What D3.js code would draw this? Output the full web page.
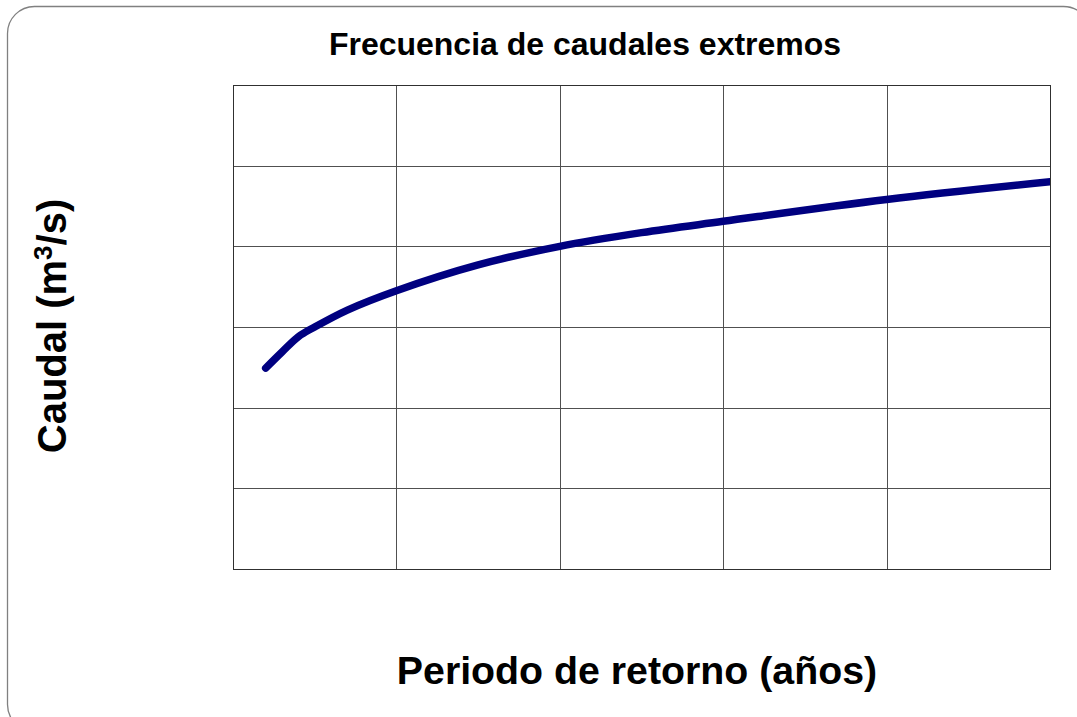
<!DOCTYPE html>
<html>
<head>
<meta charset="utf-8">
<script src="https://cdn.jsdelivr.net/npm/d3@7"></script>
<style>
  body { margin: 0; background: #fff; }
  svg { display: block; font-family: "Liberation Sans", Arial, sans-serif; }
</style>
</head>
<body>
<div id="chart"></div>
<script>
// return period (years) and peak discharge (m3/s)
var periods = [10, 15, 20, 25, 35, 50, 75, 100, 125, 150, 200, 250];
var flows = [249, 269, 288, 300, 321, 345, 377, 400, 417, 431, 458, 480];

var xTicks = [0, 50, 100, 150, 200, 250];
var yTicks = [0, 100, 200, 300, 400, 500, 600];

var titleText = "Frecuencia de caudales extremos";
var xLabel = "Periodo de retorno (años)";

var W = 1077, H = 717;
var margin = {top: 85, right: 27, bottom: 148, left: 233};
var width = W - margin.left - margin.right,
    height = H - margin.top - margin.bottom;

var svg = d3.select("#chart").append("svg")
    .attr("width", W)
    .attr("height", H);

// outer rounded frame, runs off the right and bottom edges
svg.append("rect")
    .attr("x", 7.5).attr("y", 6.5)
    .attr("width", 1083).attr("height", 725)
    .attr("rx", 27).attr("ry", 27)
    .attr("fill", "#fff")
    .attr("stroke", "#808080")
    .attr("stroke-width", 1.3);

var x = d3.scaleLinear().domain([0, 250]).range([0, width]);
var y = d3.scaleLinear().domain([0, 600]).range([height, 0]);

var g = svg.append("g")
    .attr("transform", "translate(" + margin.left + "," + margin.top + ")");

g.append("defs").append("clipPath").attr("id", "plotclip")
  .append("rect").attr("x", -10).attr("y", -10)
    .attr("width", width + 10).attr("height", height + 20);

// grid, no labels
g.append("g")
    .attr("class", "grid")
    .attr("transform", "translate(0," + height + ")")
    .call(d3.axisBottom(x).tickValues(xTicks).tickSize(-height).tickFormat(""))
    .call(function(s){ s.select(".domain").remove(); });

g.append("g")
    .attr("class", "grid")
    .call(d3.axisLeft(y).tickValues(yTicks).tickSize(-width).tickFormat(""))
    .call(function(s){ s.select(".domain").remove(); });

g.selectAll(".grid line")
    .attr("stroke", "#505050")
    .attr("stroke-width", 1)
    .attr("shape-rendering", "crispEdges");

g.append("rect")
    .attr("width", width).attr("height", height)
    .attr("fill", "none")
    .attr("stroke", "#303030")
    .attr("stroke-width", 1)
    .attr("shape-rendering", "crispEdges");

var line = d3.line()
    .x(function(d, i){ return x(periods[i]); })
    .y(function(d){ return y(d); })
    .curve(d3.curveCatmullRom.alpha(0.5));

g.append("path")
    .datum(flows)
    .attr("clip-path", "url(#plotclip)")
    .attr("d", line)
    .attr("fill", "none")
    .attr("stroke", "#000080")
    .attr("stroke-width", 7.5)
    .attr("stroke-linecap", "round")
    .attr("stroke-linejoin", "round");

// titles
svg.append("text")
    .attr("x", 585).attr("y", 55)
    .attr("text-anchor", "middle")
    .attr("font-size", 32)
    .attr("font-weight", "bold")
    .text(titleText);

svg.append("text")
    .attr("x", 637).attr("y", 684)
    .attr("text-anchor", "middle")
    .attr("font-size", 39.3)
    .attr("font-weight", "bold")
    .text(xLabel);

var yl = svg.append("text")
    .attr("transform", "translate(66,326) rotate(-90)")
    .attr("text-anchor", "middle")
    .attr("font-size", 40)
    .attr("font-weight", "bold");
yl.append("tspan").text("Caudal (m");
yl.append("tspan").attr("dy", -14).attr("font-size", 26).text("3");
yl.append("tspan").attr("dy", 14).text("/s)");
</script>
</body>
</html>
